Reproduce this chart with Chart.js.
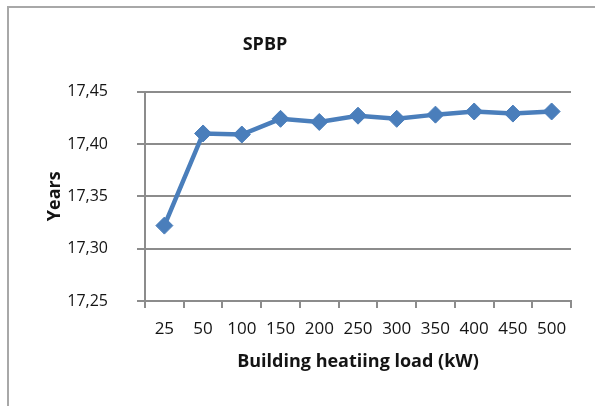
<!DOCTYPE html>
<html>
<head>
<meta charset="utf-8">
<script src="https://cdn.jsdelivr.net/npm/chart.js@4/dist/chart.umd.min.js"></script>
<style>
  html, body { margin: 0; padding: 0; background: #fff; }
  #wrap { width: 595px; height: 406px; }
</style>
</head>
<body>
<div id="wrap"><canvas id="chart" width="595" height="406"></canvas></div>
<script>
const loads = ["25", "50", "100", "150", "200", "250", "300", "350", "400", "450", "500"];
const spbp = [17.322, 17.410, 17.409, 17.424, 17.421, 17.427, 17.424, 17.428, 17.431, 17.429, 17.431];
const yTicks = [17.25, 17.30, 17.35, 17.40, 17.45];

const ink = "#141414";
const grey = "#8c8c8c";
const blue = "#4a7ebb";

// the cropped Excel frame (top + left edges only)
const frame = {
  id: "frame",
  beforeDraw(chart) {
    const ctx = chart.ctx;
    ctx.save();
    ctx.fillStyle = "#fff";
    ctx.fillRect(0, 0, chart.width, chart.height);
    ctx.strokeStyle = "#a8a8a8";
    ctx.lineWidth = 2;
    ctx.beginPath();
    ctx.moveTo(8, 406);
    ctx.lineTo(8, 7);
    ctx.lineTo(595, 7);
    ctx.stroke();
    ctx.restore();
  },
  afterLayout(chart) {
    // title sits left of centre in the original
    if (chart.titleBlock) {
      chart.titleBlock.left = 0;
      chart.titleBlock.right = 530;
    }
  }
};

new Chart(document.getElementById("chart"), {
  type: "line",
  data: {
    labels: loads,
    datasets: [{
      label: "SPBP",
      data: spbp,
      borderColor: blue,
      backgroundColor: blue,
      borderWidth: 4.5,
      pointStyle: "rectRot",
      pointRadius: 8.5,
      pointBorderWidth: 1,
      pointBackgroundColor: blue,
      pointBorderColor: blue,
      tension: 0
    }]
  },
  options: {
    responsive: false,
    animation: false,
    layout: { padding: { left: 0, right: 24, top: 0, bottom: 0 } },
    plugins: {
      legend: { display: false },
      tooltip: { enabled: false },
      title: {
        display: true,
        text: "SPBP",
        color: ink,
        font: { family: "'Open Sans'", size: 18, weight: "bold" },
        padding: { top: 34, bottom: 36 }
      }
    },
    scales: {
      x: {
        offset: true,
        grid: { drawOnChartArea: false, drawTicks: true, tickLength: 7, offset: true, color: grey, lineWidth: 2 },
        border: { display: true, color: grey, width: 2 },
        ticks: {
          color: ink,
          font: { family: "'Open Sans'", size: 17 },
          maxRotation: 0,
          autoSkip: false,
          padding: 11
        },
        title: {
          display: true,
          text: "Building heatiing load (kW)",
          color: ink,
          font: { family: "'Open Sans'", size: 18, weight: "bold" },
          padding: { top: 0, bottom: 33 }
        },
        afterFit(scale) { scale.height = 105; }
      },
      y: {
        min: 17.25,
        max: 17.45,
        afterBuildTicks(scale) { scale.ticks = yTicks.map(v => ({ value: v })); },
        grid: { color: grey, lineWidth: 2, tickLength: 8 },
        border: { display: true, color: grey, width: 2 },
        ticks: {
          color: ink,
          font: { family: "'Open Sans'", size: 16 },
          padding: 29,
          callback: v => v.toFixed(2).replace(".", ",")
        },
        title: {
          display: true,
          text: "Years",
          color: ink,
          font: { family: "'Open Sans'", size: 18, weight: "bold" },
          padding: { top: 44, bottom: 0 }
        },
        afterFit(scale) { scale.width = 145; }
      }
    }
  },
  plugins: [frame]
});
</script>
</body>
</html>
